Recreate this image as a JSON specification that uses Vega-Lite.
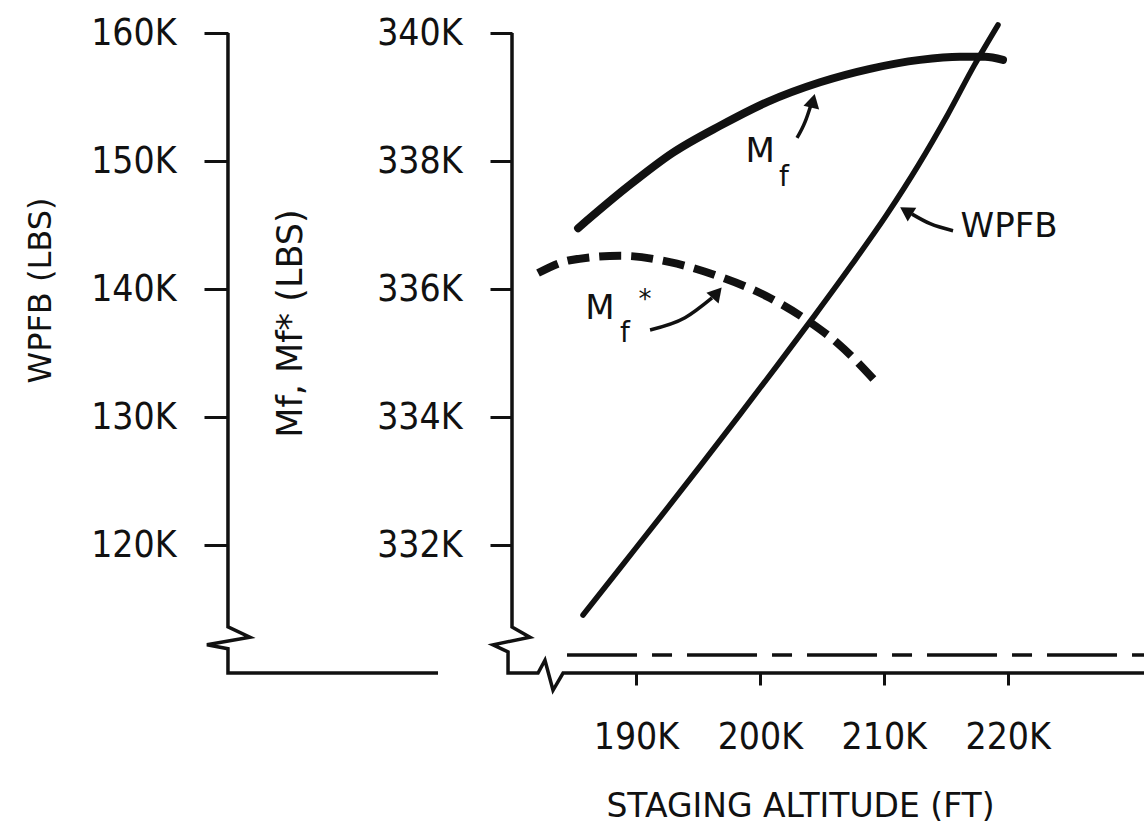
{
  "$schema": "https://vega.github.io/schema/vega-lite/v6.json",
  "autosize": "none",
  "width": 632,
  "height": 640,
  "padding": {"left": 512, "top": 33, "right": 0, "bottom": 157},
  "background": "white",
  "config": {
    "view": {"stroke": null},
    "axis": {
      "labelFont": "DejaVu Sans Condensed, DejaVu Sans, sans-serif",
      "labelFontSize": 37,
      "labelColor": "#111",
      "tickColor": "#111",
      "tickWidth": 3,
      "grid": false,
      "domain": false,
      "titleFont": "DejaVu Sans, sans-serif",
      "titleFontWeight": "normal",
      "titleColor": "#111"
    }
  },
  "datasets": {
    "frame": [
      {"part": "L", "o": 1, "x": 157.08, "y": 340},
      {"part": "L", "o": 2, "x": 157.08, "y": 330.72},
      {"part": "L", "o": 3, "x": 158.85, "y": 330.56},
      {"part": "L", "o": 4, "x": 155.38, "y": 330.44},
      {"part": "L", "o": 5, "x": 157.08, "y": 330.38},
      {"part": "L", "o": 6, "x": 157.08, "y": 330},
      {"part": "L", "o": 7, "x": 174.03, "y": 330},
      {"part": "I", "o": 1, "x": 180, "y": 340},
      {"part": "I", "o": 2, "x": 180, "y": 330.72},
      {"part": "I", "o": 3, "x": 181.45, "y": 330.56},
      {"part": "I", "o": 4, "x": 178.47, "y": 330.44},
      {"part": "I", "o": 5, "x": 179.68, "y": 330.33},
      {"part": "I", "o": 6, "x": 179.68, "y": 330},
      {"part": "I", "o": 7, "x": 182.1, "y": 330},
      {"part": "I", "o": 8, "x": 182.66, "y": 330.2},
      {"part": "I", "o": 9, "x": 183.31, "y": 329.73},
      {"part": "I", "o": 10, "x": 184.12, "y": 330},
      {"part": "I", "o": 11, "x": 231, "y": 330}
    ],
    "dash": [
      {"x": 184.44, "y": 330.28},
      {"x": 231, "y": 330.28}
    ],
    "mf": [
      {"x": 185.33, "y": 336.95},
      {"x": 189.28, "y": 337.59},
      {"x": 192.99, "y": 338.13},
      {"x": 196.79, "y": 338.55},
      {"x": 200.58, "y": 338.92},
      {"x": 204.86, "y": 339.23},
      {"x": 208.89, "y": 339.44},
      {"x": 212.92, "y": 339.58},
      {"x": 216.15, "y": 339.63},
      {"x": 218.17, "y": 339.63},
      {"x": 219.62, "y": 339.58}
    ],
    "mfs": [
      {"x": 182.1, "y": 336.25},
      {"x": 184.68, "y": 336.45},
      {"x": 188.72, "y": 336.52},
      {"x": 192.75, "y": 336.42},
      {"x": 196.79, "y": 336.19},
      {"x": 200.82, "y": 335.86},
      {"x": 204.05, "y": 335.48},
      {"x": 206.23, "y": 335.16},
      {"x": 209.46, "y": 334.53}
    ],
    "wpfb": [
      {"x": 185.73, "w": 114.53},
      {"x": 188.92, "w": 118.44},
      {"x": 192.1, "w": 122.34},
      {"x": 195.25, "w": 126.25},
      {"x": 198.36, "w": 130.16},
      {"x": 201.43, "w": 134.06},
      {"x": 204.45, "w": 137.97},
      {"x": 207.4, "w": 141.88},
      {"x": 210.22, "w": 145.78},
      {"x": 212.8, "w": 149.69},
      {"x": 215.14, "w": 153.59},
      {"x": 217.32, "w": 157.5},
      {"x": 219.22, "w": 160.63}
    ],
    "arrows": [
      {"a": "mf", "o": 1, "x": 203.0, "y": 338.36},
      {"a": "mf", "o": 2, "x": 203.65, "y": 338.61},
      {"a": "mf", "o": 3, "x": 204.13, "y": 338.88},
      {"a": "wp", "o": 1, "x": 215.59, "y": 336.91},
      {"a": "wp", "o": 2, "x": 213.74, "y": 337.02},
      {"a": "wp", "o": 3, "x": 212.28, "y": 337.17},
      {"a": "ms", "o": 1, "x": 191.14, "y": 335.36},
      {"a": "ms", "o": 2, "x": 193.96, "y": 335.55},
      {"a": "ms", "o": 3, "x": 196.14, "y": 335.86}
    ],
    "heads": [
      {"x": 204.29, "y": 338.94, "ang": 14},
      {"x": 211.8, "y": 337.22, "ang": 302},
      {"x": 196.55, "y": 335.94, "ang": 41}
    ],
    "notes": [
      {"label": "M", "x": 200.02, "y": 338.14, "s": 34},
      {"label": "f", "x": 201.95, "y": 337.73, "s": 28},
      {"label": "WPFB", "x": 220.11, "y": 336.97, "s": 34},
      {"label": "M", "x": 187.1, "y": 335.69, "s": 34},
      {"label": "f", "x": 189.12, "y": 335.3, "s": 28},
      {"label": "*", "x": 190.73, "y": 335.83, "s": 26}
    ]
  },
  "layer": [
    {
      "encoding": {
        "x": {
          "field": "x", "type": "quantitative",
          "scale": {"domain": [180, 231], "nice": false, "zero": false},
          "axis": {
            "values": [190, 200, 210, 220],
            "labelExpr": "datum.value + 'K'",
            "tickSize": 12,
            "labelPadding": 34,
            "title": "STAGING ALTITUDE (FT)",
            "titleFontSize": 33,
            "titleX": 288,
            "titleY": 133,
            "titleBaseline": "middle"
          }
        },
        "y": {
          "field": "y", "type": "quantitative",
          "scale": {"domain": [330, 340], "nice": false, "zero": false},
          "axis": {
            "values": [332, 334, 336, 338, 340],
            "labelExpr": "datum.value + 'K'",
            "tickSize": 22,
            "labelPadding": 28,
            "title": "Mf, Mf* (LBS)",
            "titleFontSize": 35,
            "titleX": -222,
            "titleY": 290,
            "titleBaseline": "middle"
          }
        }
      },
      "layer": [
        {
          "data": {"name": "frame"},
          "mark": {"type": "line", "color": "#111", "strokeWidth": 3.5, "clip": false, "strokeJoin": "miter"},
          "encoding": {"detail": {"field": "part"}, "order": {"field": "o", "type": "quantitative"}}
        },
        {
          "data": {"name": "dash"},
          "mark": {"type": "line", "color": "#111", "strokeWidth": 3.5, "clip": false, "strokeDash": [70, 15, 20, 15]},
          "encoding": {}
        },
        {
          "data": {"name": "mf"},
          "mark": {"type": "line", "color": "#111", "strokeWidth": 8, "strokeCap": "round", "interpolate": "monotone", "clip": false},
          "encoding": {}
        },
        {
          "data": {"name": "mfs"},
          "mark": {"type": "line", "color": "#111", "strokeWidth": 8, "strokeDash": [22, 10], "interpolate": "monotone", "clip": false},
          "encoding": {}
        },
        {
          "data": {"name": "arrows"},
          "mark": {"type": "line", "color": "#111", "strokeWidth": 3.5, "interpolate": "monotone", "clip": false},
          "encoding": {"detail": {"field": "a"}, "order": {"field": "o", "type": "quantitative"}}
        },
        {
          "data": {"name": "heads"},
          "mark": {"type": "point", "shape": "triangle-up", "filled": true, "color": "#111", "size": 260, "opacity": 1, "clip": false},
          "encoding": {"angle": {"field": "ang", "type": "quantitative", "scale": null}}
        },
        {
          "data": {"name": "notes"},
          "mark": {"type": "text", "font": "DejaVu Sans, sans-serif", "color": "#111", "baseline": "middle", "align": "center", "clip": false},
          "encoding": {
            "text": {"field": "label"},
            "size": {"field": "s", "type": "quantitative", "scale": null}
          }
        }
      ]
    },
    {
      "data": {"name": "wpfb"},
      "mark": {"type": "line", "color": "#111", "strokeWidth": 5.5, "strokeCap": "round", "interpolate": "monotone", "clip": false},
      "encoding": {
        "x": {
          "field": "x", "type": "quantitative",
          "scale": {"domain": [180, 231], "nice": false, "zero": false},
          "axis": {
            "values": [190, 200, 210, 220],
            "labelExpr": "datum.value + 'K'",
            "tickSize": 12,
            "labelPadding": 34,
            "title": "STAGING ALTITUDE (FT)",
            "titleFontSize": 33,
            "titleX": 288,
            "titleY": 133,
            "titleBaseline": "middle"
          }
        },
        "y": {
          "field": "w", "type": "quantitative",
          "scale": {"domain": [110, 160], "nice": false, "zero": false},
          "axis": {
            "orient": "left",
            "offset": 284,
            "values": [120, 130, 140, 150, 160],
            "labelExpr": "datum.value + 'K'",
            "tickSize": 24,
            "labelPadding": 28,
            "title": "WPFB (LBS)",
            "titleFontSize": 32,
            "titleX": -188,
            "titleY": 257,
            "titleBaseline": "middle"
          }
        }
      }
    }
  ],
  "resolve": {"scale": {"y": "independent"}, "axis": {"y": "independent"}}
}
